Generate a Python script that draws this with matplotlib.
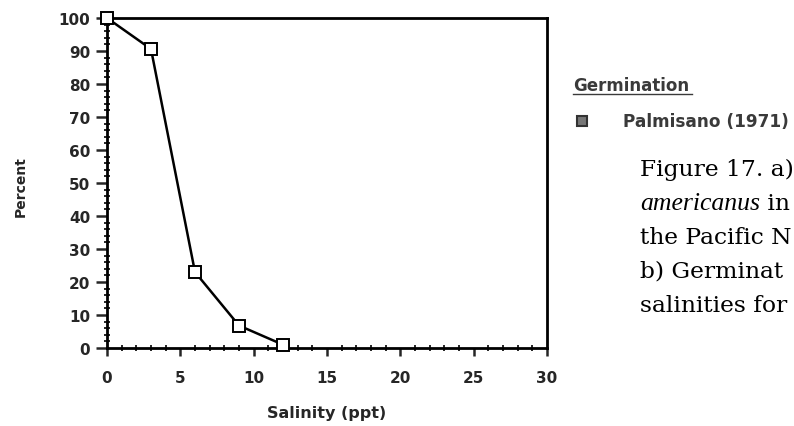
import matplotlib
matplotlib.use("Agg")
import matplotlib.pyplot as plt
from matplotlib.ticker import MultipleLocator

# datos
salinidad = [0, 3, 6, 9, 12]
germinacion = [100, 90.6, 23, 6.8, 1]
etiqueta_serie = "Palmisano (1971)"
titulo_leyenda = "Germination"
lineas_pie = ["Figure 17. a)", "americanus", "the Pacific N", "b) Germinat", "salinities for"]

W, H = 794, 427
fig = plt.figure(figsize=(W / 100, H / 100), dpi=100)
ax = fig.add_axes([107 / W, 1 - 349 / H, 440 / W, 330 / H])

ax.plot(salinidad, germinacion, color="black", lw=1.8, marker="s", ms=8,
        mfc="white", mec="black", mew=1.4, clip_on=False, zorder=5)

ax.set_xlim(0, 30)
ax.set_ylim(0, 100)
ax.xaxis.set_major_locator(MultipleLocator(5))
ax.xaxis.set_minor_locator(MultipleLocator(1))
ax.yaxis.set_major_locator(MultipleLocator(10))
ax.yaxis.set_minor_locator(MultipleLocator(2))

for s in ax.spines.values():
    s.set_linewidth(2)

gris = "#262626"
ax.tick_params(which="major", direction="out", width=1.8, colors=gris)
ax.tick_params(axis="y", which="major", length=8, pad=4)
ax.tick_params(axis="x", which="major", length=6, pad=10)
ax.tick_params(which="minor", direction="inout", length=5, width=1.4, colors=gris)
for lab in ax.get_xticklabels() + ax.get_yticklabels():
    lab.set_fontfamily("DejaVu Sans")
    lab.set_fontweight("bold")
    lab.set_fontsize(11)

fig.text(21 / W, 1 - 187 / H, "Percent", rotation=90, ha="center", va="center",
         family="DejaVu Sans", weight="bold", size=10, color=gris)
fig.text(327 / W, 1 - 414 / H, "Salinity (ppt)", ha="center", va="center",
         family="DejaVu Sans", weight="bold", size=11.5, color=gris)

# leyenda hecha a mano
fig.text(573 / W, 1 - 86 / H, titulo_leyenda, ha="left", va="center",
         family="DejaVu Sans", weight="bold", size=12, color="#3a3a3a")
fig.add_artist(plt.Line2D([573 / W, 692 / W], [1 - 95 / H, 1 - 95 / H],
                          color="#3a3a3a", lw=1))
fig.add_artist(plt.Line2D([582 / W], [1 - 122 / H], marker="s", ms=7,
                          mfc="#777777", mec="#333333", mew=1.5))
fig.text(623 / W, 1 - 122 / H, etiqueta_serie, ha="left", va="center",
         family="DejaVu Sans", weight="bold", size=12.2, color="#3a3a3a")

# pie de figura (en el original va cortado en el borde derecho)
rend = fig.canvas.get_renderer()
for i, linea in enumerate(lineas_pie):
    yb = 1 - (176 + i * 34) / H
    if i == 1:
        t = fig.text(640 / W, yb, linea, family="Liberation Serif", style="italic",
                     size=18.5, va="baseline", ha="left")
        x1 = t.get_window_extent(rend).x1
        fig.text(x1 / W, yb, " in", family="DejaVu Serif", size=16.8,
                 va="baseline", ha="left")
    else:
        fig.text(640 / W, yb, linea, family="DejaVu Serif", size=16.8,
                 va="baseline", ha="left")

fig.savefig("out.png", dpi=100)
